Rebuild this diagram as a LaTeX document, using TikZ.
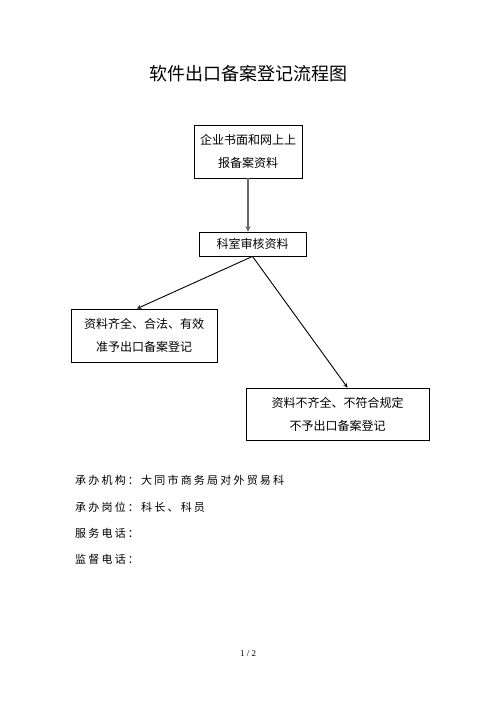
\documentclass[tikz,border=0pt]{standalone}
\usepackage{fontspec}
\newfontfamily\cjk{Noto Sans CJK SC}
\newfontfamily\cjkwide[LetterSpace=20]{Noto Sans CJK SC}
\setmainfont{Liberation Serif}
\tikzset{
  stepbox/.style={draw,thick,align=center,inner sep=0pt,font=\cjk\fontsize{12}{23}\selectfont},
  infotext/.style={anchor=west,inner sep=0pt,font=\cjkwide\fontsize{11}{13}\selectfont}
}
\begin{document}
\begin{tikzpicture}[x=1pt,y=-1pt,>=stealth]
        \useasboundingbox (0,0) rectangle (496,702);
        %% title
        \node[font=\cjk\fontsize{18}{20}\selectfont] (title) at (248,74) {软件出口备案登记流程图};
        %% boxes
        \node[stepbox,minimum width=108,minimum height=53] (submit) at (248,151.5) {企业书面和网上上\\报备案资料};
        \node[stepbox,minimum width=107,minimum height=24] (review) at (252.5,244) {科室审核资料};
        \node[stepbox,minimum width=146,minimum height=53] (accept) at (144,335.5) {资料齐全、合法、有效\\准予出口备案登记};
        \node[stepbox,minimum width=183,minimum height=52] (reject) at (337.5,414) {资料不齐全、不符合规定\\不予出口备案登记};
        %% arrows
        \draw[gray!80!black,line width=1.4pt,->] (submit.south) -- (submit.south |- review.north);
        \draw[line width=0.9pt,->] (review.south) -- ([xshift=-7]accept.north);
        \draw[line width=0.9pt,->] (review.south) -- ([xshift=10]reject.north);
        %% notes
        \node[infotext] (org) at (75,480) {承办机构：大同市商务局对外贸易科};
        \node[infotext] (post) at (75,507) {承办岗位：科长、科员};
        \node[infotext] (tel) at (75,533) {服务电话：};
        \node[infotext] (sup) at (75,559) {监督电话：};
        %% page number
        \node[font=\fontsize{9}{10}\selectfont] (page) at (248,654) {1 / 2};
\end{tikzpicture}
\end{document}
